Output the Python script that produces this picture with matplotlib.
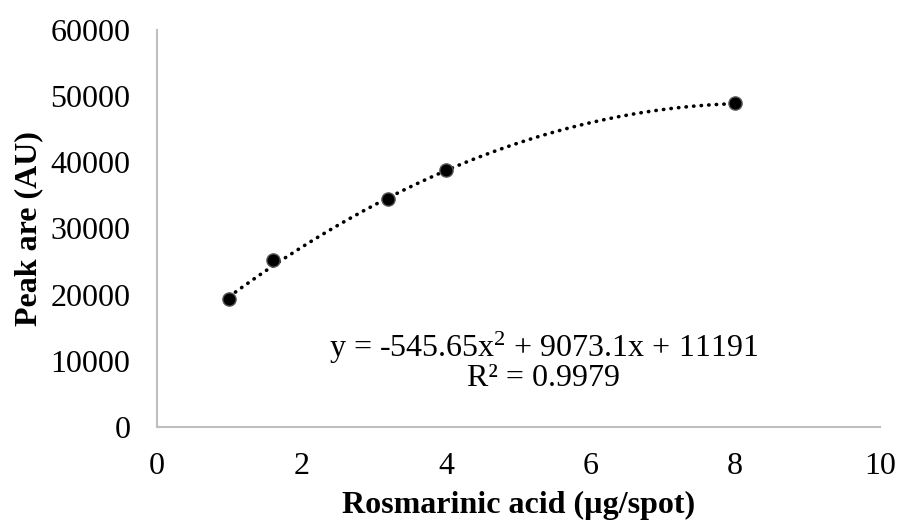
import numpy as np
import matplotlib
matplotlib.use("Agg")
import matplotlib.pyplot as plt

plt.rcParams['font.family'] = ['Liberation Serif', 'DejaVu Serif']
plt.rcParams['mathtext.fontset'] = 'custom'
plt.rcParams['mathtext.rm'] = 'Liberation Serif'
plt.rcParams['mathtext.default'] = 'regular'

# calibration points
conc = [1, 1.6, 3.2, 4, 8]
area = [19300, 25200, 34400, 38800, 49000]

# quadratic trendline coefficients (a x^2 + b x + c)
coef = [-545.65, 9073.1, 11191]
r2 = 0.9979

x_ticks = [0, 2, 4, 6, 8, 10]
y_ticks = [0, 10000, 20000, 30000, 40000, 50000, 60000]

fig = plt.figure(figsize=(9.06, 5.24), dpi=100)
ax = fig.add_axes([0.1733, 0.185, 0.7977, 0.758])

xs = np.linspace(min(conc), max(conc), 200)
ax.plot(xs, np.polyval(coef, xs), color='black', linestyle=(0, (0.1, 2.0)),
        linewidth=2.6, dash_capstyle='round', zorder=2)
ax.plot(conc, area, 'o', color='black', markersize=9.5,
        markeredgecolor='#555555', markeredgewidth=1.0, zorder=3)

ax.set_xlim(0, 10)
ax.set_ylim(0, 60000)
ax.set_xticks(x_ticks)
ax.set_yticks(y_ticks)
ax.tick_params(length=0, labelsize=23)
ax.tick_params(axis='y', pad=19)
ax.tick_params(axis='x', pad=18)

for side in ['top', 'right']:
    ax.spines[side].set_visible(False)
for side in ['left', 'bottom']:
    ax.spines[side].set_color('#bfbfbf')
    ax.spines[side].set_linewidth(1.5)

ax.set_xlabel('Rosmarinic acid (µg/spot)', fontsize=23, fontweight='bold', labelpad=7)
ax.set_ylabel('Peak are (AU)', fontsize=23, fontweight='bold', labelpad=5)

eq = 'y = {:g}x$^{{2}}$ + {:g}x + {:g}\nR² = {:g}'.format(coef[0], coef[1], coef[2], r2)
ax.text(5.35, 9900, eq, fontsize=23, ha='center', va='center', linespacing=0.94)

fig.savefig('out.png', dpi=100)
